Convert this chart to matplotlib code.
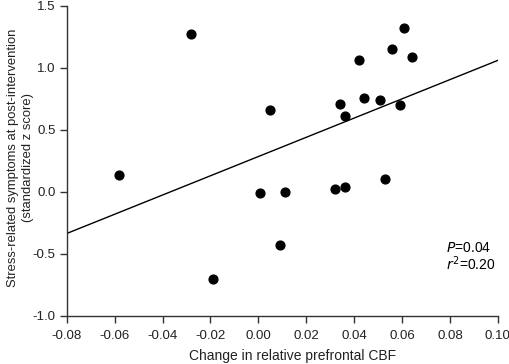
import matplotlib.pyplot as plt
import numpy as np

plt.rcParams['font.family'] = ['Liberation Sans', 'DejaVu Sans']

# change in relative prefrontal CBF vs standardized stress symptoms
cbf_change = [-0.058, -0.028, -0.019, 0.0006, 0.005, 0.009, 0.011, 0.032, 0.034,
              0.036, 0.036, 0.042, 0.044, 0.051, 0.053, 0.056, 0.059, 0.061, 0.064]
symptoms = [0.14, 1.27, -0.70, -0.01, 0.66, -0.43, 0.00, 0.02, 0.71,
            0.61, 0.04, 1.06, 0.76, 0.74, 0.10, 1.15, 0.70, 1.32, 1.09]

# fitted regression line end points
fit_x = [-0.08, 0.10]
fit_y = [-0.335, 1.06]

xticks = [-0.08, -0.06, -0.04, -0.02, 0.00, 0.02, 0.04, 0.06, 0.08, 0.10]
yticks = [-1.0, -0.5, 0.0, 0.5, 1.0, 1.5]

fig = plt.figure(figsize=(5.1, 3.64), dpi=100)
ax = fig.add_axes([0.131, 0.132, 0.845, 0.852])

ax.scatter(cbf_change, symptoms, s=40, c='black', zorder=3, clip_on=False)
ax.plot(fit_x, fit_y, color='black', lw=1.0)

ax.set_xlim(-0.08, 0.10)
ax.set_ylim(-1.0, 1.5)
ax.set_xticks(xticks)
ax.set_xticklabels(['%.2f' % v for v in xticks])
ax.set_yticks(yticks)
ax.set_yticklabels(['%.1f' % v for v in yticks])

for side in ['top', 'right']:
    ax.spines[side].set_visible(False)
for side in ['left', 'bottom']:
    ax.spines[side].set_color('#333333')
    ax.spines[side].set_linewidth(1.0)
ax.tick_params(direction='out', length=5, width=1.0, color='#333333',
               labelsize=9.5, labelcolor='#222222')
ax.tick_params(axis='x', pad=5)
ax.tick_params(axis='y', pad=3)

ax.set_xlabel('Change in relative prefrontal CBF', fontsize=10, color='#222222')
ax.xaxis.set_label_coords(0.523, -0.105)
ax.set_ylabel('Stress-related symptoms at post-intervention\n(standardized z score)',
              fontsize=9.4, linespacing=1.25, color='#222222')
ax.yaxis.set_label_coords(-0.077, 0.51)

ax.text(0.0785, -0.45, r'$\it{P}$=0.04', fontsize=10, va='center', ha='left')
ax.text(0.0785, -0.575, r'$\it{r}^2$=0.20', fontsize=10, va='center', ha='left')

fig.savefig('out.png', dpi=100)
